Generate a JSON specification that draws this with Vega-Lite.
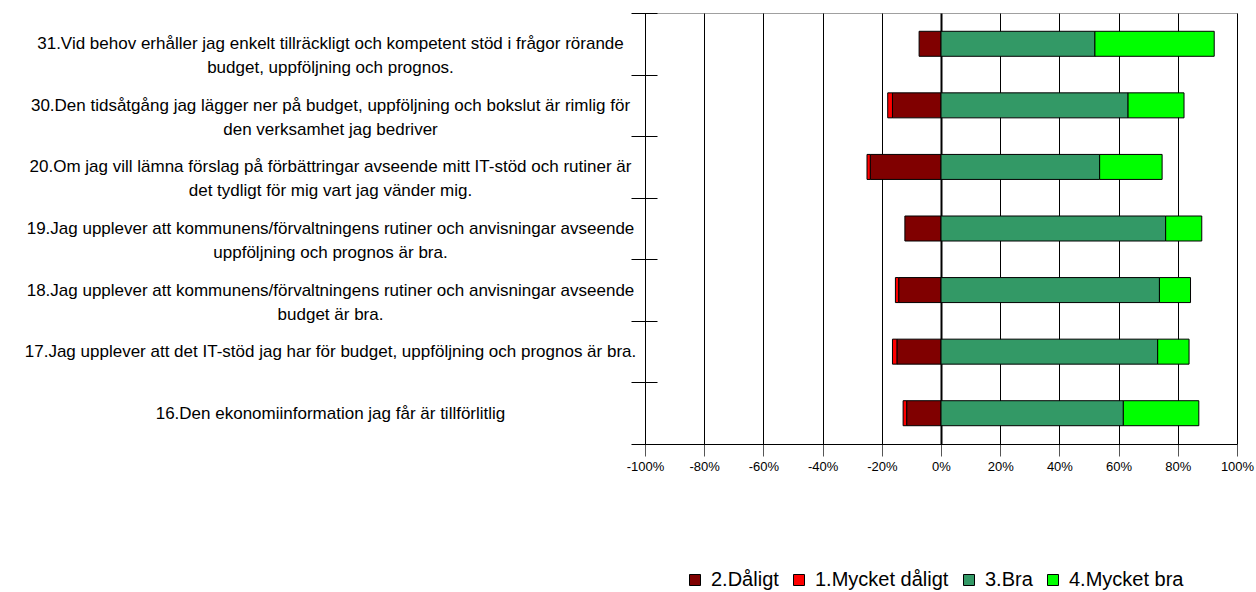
{
  "$schema": "https://vega.github.io/schema/vega-lite/v6.json",
  "autosize": "none",
  "width": 592,
  "height": 431,
  "padding": {"left": 645, "top": 13, "right": 19, "bottom": 148},
  "background": "white",
  "config": {
    "font": "Liberation Sans",
    "view": {"stroke": "#a0a0a0", "strokeWidth": 1}
  },
  "data": {
    "values": [
      {"q": "31.Vid behov erhåller jag enkelt tillräckligt och kompetent stöd i frågor rörande|budget, uppföljning och prognos.", "resp": "2.Dåligt", "rank": 1, "value": -7.4},
      {"q": "31.Vid behov erhåller jag enkelt tillräckligt och kompetent stöd i frågor rörande|budget, uppföljning och prognos.", "resp": "3.Bra", "rank": 1, "value": 52.0},
      {"q": "31.Vid behov erhåller jag enkelt tillräckligt och kompetent stöd i frågor rörande|budget, uppföljning och prognos.", "resp": "4.Mycket bra", "rank": 2, "value": 40.3},
      {"q": "30.Den tidsåtgång jag lägger ner på budget, uppföljning och bokslut är rimlig för|den verksamhet jag bedriver", "resp": "2.Dåligt", "rank": 1, "value": -16.4},
      {"q": "30.Den tidsåtgång jag lägger ner på budget, uppföljning och bokslut är rimlig för|den verksamhet jag bedriver", "resp": "1.Mycket dåligt", "rank": 2, "value": -1.6},
      {"q": "30.Den tidsåtgång jag lägger ner på budget, uppföljning och bokslut är rimlig för|den verksamhet jag bedriver", "resp": "3.Bra", "rank": 1, "value": 63.2},
      {"q": "30.Den tidsåtgång jag lägger ner på budget, uppföljning och bokslut är rimlig för|den verksamhet jag bedriver", "resp": "4.Mycket bra", "rank": 2, "value": 18.9},
      {"q": "20.Om jag vill lämna förslag på förbättringar avseende mitt IT-stöd och rutiner är|det tydligt för mig vart jag vänder mig.", "resp": "2.Dåligt", "rank": 1, "value": -23.9},
      {"q": "20.Om jag vill lämna förslag på förbättringar avseende mitt IT-stöd och rutiner är|det tydligt för mig vart jag vänder mig.", "resp": "1.Mycket dåligt", "rank": 2, "value": -1.1},
      {"q": "20.Om jag vill lämna förslag på förbättringar avseende mitt IT-stöd och rutiner är|det tydligt för mig vart jag vänder mig.", "resp": "3.Bra", "rank": 1, "value": 53.6},
      {"q": "20.Om jag vill lämna förslag på förbättringar avseende mitt IT-stöd och rutiner är|det tydligt för mig vart jag vänder mig.", "resp": "4.Mycket bra", "rank": 2, "value": 21.1},
      {"q": "19.Jag upplever att kommunens/förvaltningens rutiner och anvisningar avseende|uppföljning och prognos är bra.", "resp": "2.Dåligt", "rank": 1, "value": -12.2},
      {"q": "19.Jag upplever att kommunens/förvaltningens rutiner och anvisningar avseende|uppföljning och prognos är bra.", "resp": "3.Bra", "rank": 1, "value": 75.9},
      {"q": "19.Jag upplever att kommunens/förvaltningens rutiner och anvisningar avseende|uppföljning och prognos är bra.", "resp": "4.Mycket bra", "rank": 2, "value": 12.2},
      {"q": "18.Jag upplever att kommunens/förvaltningens rutiner och anvisningar avseende|budget är bra.", "resp": "2.Dåligt", "rank": 1, "value": -14.3},
      {"q": "18.Jag upplever att kommunens/förvaltningens rutiner och anvisningar avseende|budget är bra.", "resp": "1.Mycket dåligt", "rank": 2, "value": -1.1},
      {"q": "18.Jag upplever att kommunens/förvaltningens rutiner och anvisningar avseende|budget är bra.", "resp": "3.Bra", "rank": 1, "value": 73.8},
      {"q": "18.Jag upplever att kommunens/förvaltningens rutiner och anvisningar avseende|budget är bra.", "resp": "4.Mycket bra", "rank": 2, "value": 10.5},
      {"q": "17.Jag upplever att det IT-stöd jag har för budget, uppföljning och prognos är bra.", "resp": "2.Dåligt", "rank": 1, "value": -14.9},
      {"q": "17.Jag upplever att det IT-stöd jag har för budget, uppföljning och prognos är bra.", "resp": "1.Mycket dåligt", "rank": 2, "value": -1.5},
      {"q": "17.Jag upplever att det IT-stöd jag har för budget, uppföljning och prognos är bra.", "resp": "3.Bra", "rank": 1, "value": 73.2},
      {"q": "17.Jag upplever att det IT-stöd jag har för budget, uppföljning och prognos är bra.", "resp": "4.Mycket bra", "rank": 2, "value": 10.6},
      {"q": "16.Den ekonomiinformation jag får är tillförlitlig", "resp": "2.Dåligt", "rank": 1, "value": -11.6},
      {"q": "16.Den ekonomiinformation jag får är tillförlitlig", "resp": "1.Mycket dåligt", "rank": 2, "value": -1.2},
      {"q": "16.Den ekonomiinformation jag får är tillförlitlig", "resp": "3.Bra", "rank": 1, "value": 61.6},
      {"q": "16.Den ekonomiinformation jag får är tillförlitlig", "resp": "4.Mycket bra", "rank": 2, "value": 25.5}
    ]
  },
  "mark": {"type": "bar", "stroke": "black", "strokeWidth": 1, "size": 25},
  "encoding": {
    "y": {
      "field": "q",
      "type": "nominal",
      "sort": null,
      "scale": {"paddingInner": 0, "paddingOuter": 0},
      "axis": {
        "orient": "left",
        "title": null,
        "offset": -12,
        "domain": false,
        "ticks": true,
        "tickBand": "extent",
        "tickSize": 26,
        "tickColor": "black",
        "tickWidth": 1,
        "grid": false,
        "labelExpr": "split(datum.label, '|')",
        "labelFont": "Liberation Sans",
        "labelFontSize": 17,
        "labelColor": "black",
        "labelLineHeight": 24,
        "labelBaseline": "middle",
        "labelLimit": 0,
        "labelAlign": "center",
        "labelPadding": 301
      }
    },
    "x": {
      "field": "value",
      "type": "quantitative",
      "stack": "zero",
      "scale": {"domain": [-100, 100], "nice": false},
      "axis": {
        "title": null,
        "values": [-100, -80, -60, -40, -20, 0, 20, 40, 60, 80, 100],
        "labelExpr": "datum.value + '%'",
        "grid": true,
        "gridColor": "#000000",
        "gridWidth": {"condition": {"test": "datum.value == 0", "value": 2}, "value": 1},
        "domainColor": "black",
        "tickColor": "#555555",
        "tickSize": 12,
        "labelFont": "Liberation Sans",
        "labelFontSize": 13,
        "labelColor": "black",
        "labelPadding": 4,
        "labelFlush": false
      }
    },
    "color": {
      "field": "resp",
      "type": "nominal",
      "scale": {
        "domain": ["2.Dåligt", "1.Mycket dåligt", "3.Bra", "4.Mycket bra"],
        "range": ["#800000", "#FF0000", "#339966", "#00FF00"]
      },
      "legend": {
        "title": null,
        "orient": "none",
        "legendX": 40,
        "legendY": 557,
        "direction": "horizontal",
        "symbolType": "square",
        "symbolSize": 121,
        "symbolStrokeColor": "black",
        "symbolStrokeWidth": 1,
        "labelFont": "Liberation Sans",
        "labelFontSize": 20,
        "labelColor": "black",
        "labelOffset": 6,
        "columnPadding": 10,
        "padding": 0
      }
    },
    "order": {"field": "rank", "type": "quantitative"}
  }
}
